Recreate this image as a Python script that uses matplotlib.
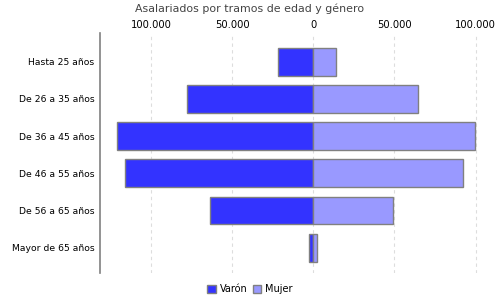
import matplotlib.pyplot as plt
from matplotlib.ticker import FuncFormatter

# Data
tramos = ["Hasta 25 años", "De 26 a 35 años", "De 36 a 45 años",
          "De 46 a 55 años", "De 56 a 65 años", "Mayor de 65 años"]
varon = [22000, 78000, 121000, 116000, 63500, 2500]
mujer = [14000, 64500, 99500, 92300, 49200, 2000]

fig = plt.figure(figsize=(5, 3), dpi=100)
ax = fig.add_axes([0.2, 0.09, 0.79, 0.80])

y = list(range(len(tramos)))
ax.barh(y, [-v for v in varon], height=0.75, color="#3333FF",
        edgecolor="#808080", linewidth=1, label="Varón", zorder=3)
ax.barh(y, mujer, height=0.75, color="#9999FF",
        edgecolor="#808080", linewidth=1, label="Mujer", zorder=3)

ax.set_xlim(-131500, 112000)
ax.set_ylim(5.68, -0.77)
ax.set_yticks(y)
ax.set_yticklabels(tramos, fontsize=6.7)
ax.set_xticks([-100000, -50000, 0, 50000, 100000])
ax.xaxis.set_major_formatter(FuncFormatter(lambda v, p: f"{abs(int(v)):,}".replace(",", ".")))
ax.xaxis.tick_top()
ax.tick_params(axis="x", length=0, labelsize=7.2, pad=2)
ax.tick_params(axis="y", length=0, pad=4)
ax.grid(axis="x", color="#dddddd", linestyle=(0, (3, 3)), linewidth=0.8, zorder=0)

for s in ["top", "right", "bottom"]:
    ax.spines[s].set_visible(False)
ax.spines["left"].set_color("#808080")
ax.spines["left"].set_linewidth(1.2)

fig.text(0.5, 0.972, "Asalariados por tramos de edad y género", ha="center",
         va="center", fontsize=7.9, color="#444444")
fig.legend(loc="center", bbox_to_anchor=(0.5, 0.035), ncol=2, frameon=False,
           fontsize=7, handlelength=0.9, handleheight=0.9, handletextpad=0.4,
           columnspacing=0.5)

fig.savefig("out.png", dpi=100)
